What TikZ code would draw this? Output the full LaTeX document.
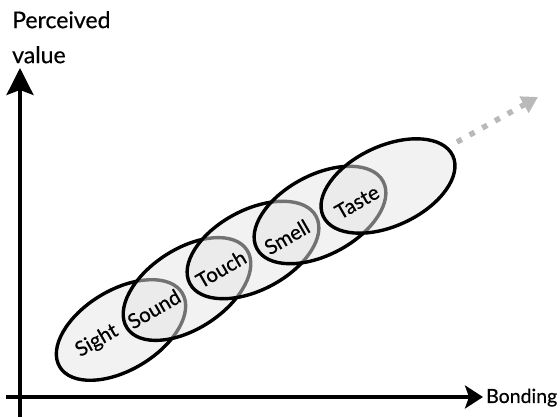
\documentclass[tikz,border=0pt]{standalone}
\usepackage{fontspec}
\setmainfont{Lato}[FakeBold=0.5]
\usetikzlibrary{arrows.meta,positioning,shapes.geometric}

\begin{document}
\begin{tikzpicture}[
  x=1pt, y=1pt,
  font=\fontsize{23}{35}\selectfont,
  axis/.style={line width=3.4pt},
  sense/.style={ellipse,draw,line width=3.4pt,fill=gray!20,fill opacity=0.5,draw opacity=1,
    minimum width=143pt,minimum height=80pt,inner sep=0pt},
  lbl/.style={font=\fontsize{20.5}{22}\selectfont,rotate=30,inner sep=0pt},
  trail/.style={gray!55,line width=5.5pt,dash pattern=on 5.5pt off 9pt}
]
\useasboundingbox (0,0) rectangle (560,417);

% ---- Axes ----
\coordinate (ybot) at (20,0);
\coordinate (xbot) at (6,20);
\coordinate (ytip) at (20,349);
\coordinate (xtip) at (483,20);
\draw[axis,-{Stealth[length=27pt,width=27pt,inset=5pt]}] (ybot) -- (ytip);
\draw[axis,-{Stealth[length=18pt,width=23pt,inset=4pt]}] (xbot) -- (xtip);

\node[anchor=north west,align=left,inner sep=0pt] (ylab) at (12,406) {Perceived\\value};
\node[anchor=base west,inner sep=0pt,font=\fontsize{19.5}{22}\selectfont] (xlab) at (486,14) {Bonding};

% ---- Senses ----
\foreach \n/\x/\y/\r in {1/121/87/31,2/187/128/33,3/253/167/28,4/320/202/28,5/388/231/25} {
  \node[sense,rotate=\r] (e\n) at (\x,\y) {};
}

\node[lbl] (sight) at (97,76) {Sight};
\node[lbl] (sound) at (154,108) {Sound};
\node[lbl] (touch) at (221,148) {Touch};
\node[lbl] (smell) at (287,180) {Smell};
\node[lbl] (taste) at (357,215) {Taste};

% ---- More to come ----
\coordinate (tail) at (457,275);
\coordinate (more) at (538,320);
\draw[trail,-{Triangle[length=16pt,width=18pt]}] (tail) -- (more);

\end{tikzpicture}
\end{document}
